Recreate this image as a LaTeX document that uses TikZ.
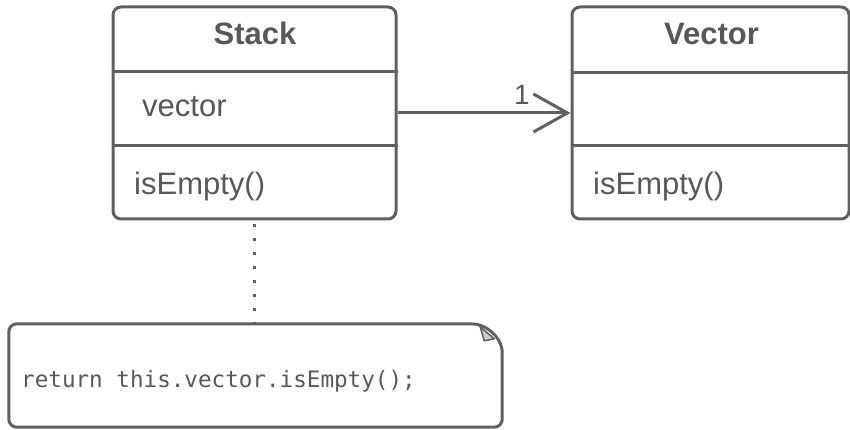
\documentclass[tikz,border=0pt]{standalone}
\usepackage{fontspec}
\setmainfont{Liberation Sans}
\newfontfamily\codefont{DejaVu Sans Mono}
\usetikzlibrary{arrows.meta}

\definecolor{linegray}{RGB}{96,96,96}
\definecolor{textgray}{RGB}{88,88,88}
\definecolor{foldgray}{RGB}{205,205,205}

\begin{document}
\begin{tikzpicture}[
    x=1pt, y=-1pt,
    every node/.style={font=\fontsize{31}{36}\selectfont, text=textgray, inner sep=0pt},
    classbox/.style={draw=linegray, line width=3pt, rounded corners=8pt, minimum height=212pt},
    classtitle/.style={anchor=base, font=\fontsize{31}{36}\selectfont\bfseries},
    member/.style={anchor=base west},
    divider/.style={draw=linegray, line width=3pt},
    assoc/.style={draw=linegray, line width=3pt, -{Straight Barb[length=34pt, width=38pt]}},
    noteline/.style={draw=linegray, line width=3pt, dash pattern=on 3pt off 11pt, dash phase=10.5pt},
    boxline/.style={draw=linegray, line width=3pt},
    fold/.style={fill=foldgray, draw=linegray, line width=1.5pt, line join=round}
]

\useasboundingbox (0,0) rectangle (850,430);

% ===== LEFT: Stack class =====
\node[classbox, minimum width=283pt] (stack) at (254.5,113) {};
\node[classtitle] (stacktitle) at (255,45) {Stack};

% --- Compartments ---
\draw[divider] ([yshift=-66pt]stack.north west) -- ([yshift=-66pt]stack.north east);
\draw[divider] ([yshift=-140pt]stack.north west) -- ([yshift=-140pt]stack.north east);
\node[member] (stackattr) at (142,117) {vector};
\node[member] (stackop) at (134,195) {isEmpty()};


% ===== RIGHT: Vector class =====
\node[classbox, minimum width=277pt] (vector) at (710.5,113) {};
\node[classtitle] (vectortitle) at (711.5,45) {Vector};

% --- Compartments ---
\draw[divider] ([yshift=-67pt]vector.north west) -- ([yshift=-67pt]vector.north east);
\draw[divider] ([yshift=-140pt]vector.north west) -- ([yshift=-140pt]vector.north east);
\node[member] (vectorop) at (593,195) {isEmpty()};


% --- Association ---
\draw[assoc] (stack.east) -- (vector.west);
\node[anchor=base, font=\fontsize{28}{34}\selectfont] (multone) at (522,105) {1};


% ===== BOTTOM: Note =====
\node[minimum width=493pt, minimum height=103pt] (note) at (255.5,375.5) {};
\draw[boxline, rounded corners=8pt] ([yshift=-29pt]note.north east) -- (note.south east)
    -- (note.south west) -- (note.north west) -- ([xshift=-30pt]note.north east);
\draw[boxline] ([xshift=-30pt]note.north east)
    .. controls ([xshift=-17pt]note.north east) and ([yshift=-13pt]note.north east)
    .. ([yshift=-29pt]note.north east);
\filldraw[fold] ([shift={(-22pt,-3pt)}]note.north east) -- ([shift={(-8pt,-15pt)}]note.north east)
    -- ([shift={(-18pt,-17pt)}]note.north east) -- cycle;
\node[member, font=\codefont\fontsize{22.6}{26}\selectfont] (code) at (21,387) {return this.vector.isEmpty();};

% --- Note link ---
\draw[noteline] (stack.south) -- (stack.south |- note.north);


\end{tikzpicture}
\end{document}
